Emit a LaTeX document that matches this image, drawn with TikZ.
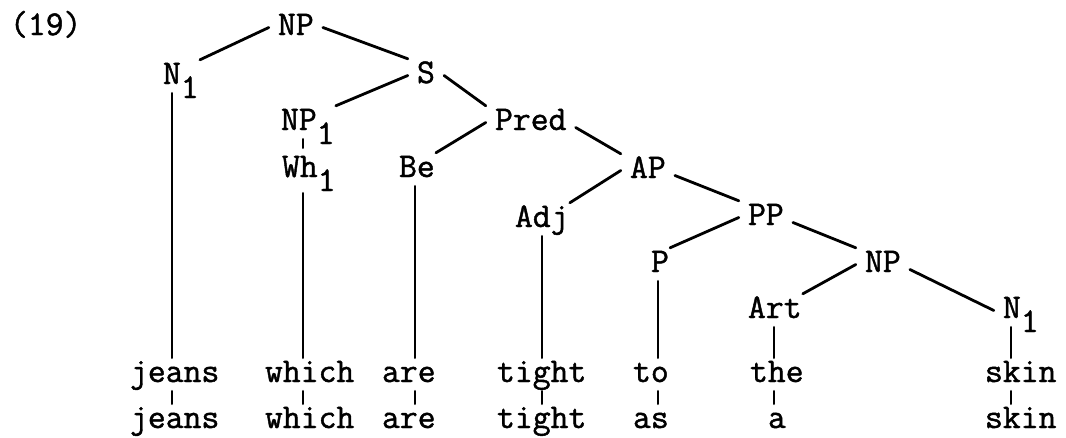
\documentclass[tikz,border=0pt]{standalone}
\usepackage{fontspec}
% slightly heavier typewriter face
\newfontfamily\typewriter{Latin Modern Mono}[FakeBold=1.3]
% typewriter-style index digit set on a lowered line
\newcommand\lowone{\raisebox{-14pt}{1}}
\begin{document}
\begin{tikzpicture}[x=1pt,y=-1pt,
  every node/.style={font=\typewriter\fontsize{34.7}{40}\selectfont},
  lab/.style={anchor=text, inner xsep=9pt, inner ysep=3pt,
              text height=21pt, text depth=6pt},
  branch/.style={line width=2.8pt, line cap=round},
]
\useasboundingbox (0,0) rectangle (1066,437);

% example number
\node[lab] (num) at (10,35) {(19)};

% tree labels
\node[lab] (np0)  at (278,35)  {NP};
\node[lab] (n1a)  at (163,84)  {N\lowone};
\node[lab] (s)    at (417,83)  {S};
\node[lab] (np1)  at (281,130) {NP\lowone};
\node[lab] (pred) at (495,130) {Pred};
\node[lab] (wh1)  at (282,177) {Wh\lowone};
\node[lab] (be)   at (399,177) {Be};
\node[lab] (ap)   at (630,178) {AP};
\node[lab] (adj)  at (515,227) {Adj};
\node[lab] (pp)   at (748,225) {PP};
\node[lab] (p)    at (651,272) {P};
\node[lab] (np2)  at (865,272) {NP};
\node[lab] (art)  at (748,318) {Art};
\node[lab] (n1b)  at (1003,318) {N\lowone};

% first line of words
\node[lab] (ra1) at (130,382) {jeans};
\node[lab] (ra2) at (265,382) {which};
\node[lab] (ra3) at (382,382) {are};
\node[lab] (ra4) at (497,382) {tight};
\node[lab] (ra5) at (633,382) {to};
\node[lab] (ra6) at (750,382) {the};
\node[lab] (ra7) at (985,382) {skin};

% second line of words
\node[lab] (rb1) at (130,428) {jeans};
\node[lab] (rb2) at (265,428) {which};
\node[lab] (rb3) at (382,428) {are};
\node[lab] (rb4) at (497,428) {tight};
\node[lab] (rb5) at (633,428) {as};
\node[lab] (rb6) at (768,428) {a};
\node[lab] (rb7) at (985,428) {skin};

% columns of the vertical branches
\coordinate (c1) at (172,0);
\coordinate (c2) at (303,0);
\coordinate (c3) at (415,0);
\coordinate (c4) at (542,0);
\coordinate (c5) at (658,0);
\coordinate (c6) at (774,0);
\coordinate (c7) at (1011,0);

% slanted branches
\draw[branch] (np0.west) -- ([xshift=-8pt]n1a.north east);
\draw[branch] (np0.east) -- (s.north west);
\draw[branch] (s.west) -- ([xshift=-8pt]np1.north east);
\draw[branch] (s.east) -- (pred.north west);
\draw[branch] (pred.west) -- ([xshift=-8pt]be.north east);
\draw[branch] ([yshift=-5pt]pred.east) -- (ap.north west);
\draw[branch] (ap.west) -- ([xshift=-8pt]adj.north east);
\draw[branch] ([yshift=-5pt]ap.east) -- (pp.north west);
\draw[branch] (pp.west) -- ([xshift=-8pt]p.north east);
\draw[branch] ([yshift=-5pt]pp.east) -- (np2.north west);
\draw[branch] (np2.west) -- ([xshift=-8pt]art.north east);
\draw[branch] ([yshift=-5pt]np2.east) -- (n1b.west);

% vertical branches down to the words
\draw[branch] (c1 |- n1a.south) -- (c1 |- ra1.north);
\draw[branch, shorten >=5pt] (c2 |- np1.south) -- (c2 |- wh1.north);
\draw[branch, shorten <=7pt] (c2 |- wh1.south) -- (c2 |- ra2.north);
\draw[branch] (c3 |- be.south) -- (c3 |- ra3.north);
\draw[branch] (c4 |- adj.south) -- (c4 |- ra4.north);
\draw[branch] (c5 |- p.south) -- (c5 |- ra5.north);
\draw[branch] (c6 |- art.south) -- (c6 |- ra6.north);
\draw[branch] (c7 |- n1b.south) -- (c7 |- ra7.north);

% ticks linking the two lines of words
\draw[branch] (c1 |- ra1.south) -- (c1 |- rb1.north);
\draw[branch] (c2 |- ra2.south) -- (c2 |- rb2.north);
\draw[branch] (c3 |- ra3.south) -- (c3 |- rb3.north);
\draw[branch] (c4 |- ra4.south) -- (c4 |- rb4.north);
\draw[branch] (c5 |- ra5.south) -- (c5 |- rb5.north);
\draw[branch] (c6 |- ra6.south) -- (c6 |- rb6.north);
\draw[branch] (c7 |- ra7.south) -- (c7 |- rb7.north);
\end{tikzpicture}
\end{document}
